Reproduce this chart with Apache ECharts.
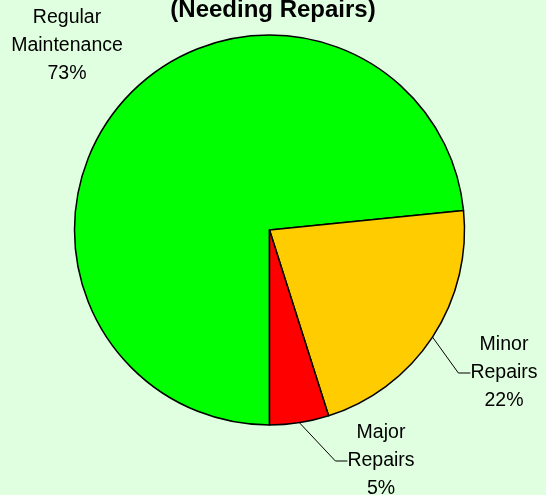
<!DOCTYPE html>
<html>
<head>
<meta charset="utf-8">
<script src="https://cdn.jsdelivr.net/npm/echarts@6/dist/echarts.min.js"></script>
<style>
html,body{margin:0;padding:0;background:#E0FFE0;}
#chart{width:546px;height:495px;}
</style>
</head>
<body>
<div id="chart"></div>
<script>
var categories = ['Regular\nMaintenance', 'Minor\nRepairs', 'Major\nRepairs'];
var values = [73.4, 21.7, 4.9];
var colors = ['#00FF00', '#FFCC00', '#FF0000'];
var titleText = '(Needing Repairs)';

var labelSpots = [
  {x: 67, y: 46, line: false},
  {x: 504, y: 373, line: true},
  {x: 381, y: 461, line: true}
];

var chart = echarts.init(document.getElementById('chart'), null, {renderer: 'canvas'});
var data = categories.map(function (c, i) {
  var item = {
    name: c,
    value: values[i],
    itemStyle: {color: colors[i]},
    labelLine: {show: labelSpots[i].line}
  };
  if (!labelSpots[i].line) {
    item.label = {width: 140, overflow: 'none'};
  }
  return item;
});
chart.setOption({
  backgroundColor: '#E0FFE0',
  animation: false,
  title: {
    text: titleText,
    left: 'center',
    top: -7,
    textStyle: {fontFamily: 'Liberation Sans', fontWeight: 'bold', fontSize: 24, color: '#000'}
  },
  series: [{
    type: 'pie',
    center: [269.5, 230],
    radius: 195,
    startAngle: 270,
    clockwise: true,
    percentPrecision: 0,
    itemStyle: {borderColor: '#000', borderWidth: 1.5},
    label: {
      show: true,
      formatter: '{b}\n{d}%',
      fontFamily: 'Liberation Sans',
      fontSize: 19.5,
      lineHeight: 28,
      color: '#000',
      align: 'center',
      overflow: 'none'
    },
    labelLine: {show: true, length: 30, length2: 12, lineStyle: {color: '#000', width: 1}},
    labelLayout: function (params) {
      var s = labelSpots[params.dataIndex];
      return {x: s.x, y: s.y, align: 'center', verticalAlign: 'middle'};
    },
    data: data
  }]
});
</script>
</body>
</html>
